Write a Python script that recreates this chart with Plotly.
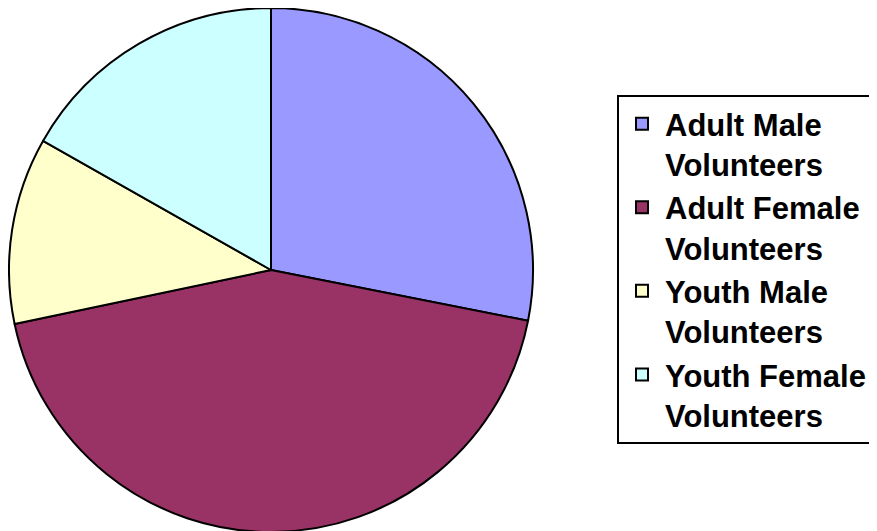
import plotly.graph_objects as go

categories = ["Adult Male<br>Volunteers", "Adult Female<br>Volunteers",
              "Youth Male<br>Volunteers", "Youth Female<br>Volunteers"]
values = [28.1, 43.6, 11.5, 16.8]
colors = ["#9999FF", "#993366", "#FFFFCC", "#CCFFFF"]

W, H = 877, 531
OFF = 8  # page body margin offset

fig = go.Figure(go.Pie(
    labels=categories,
    values=values,
    sort=False,
    direction="clockwise",
    rotation=0,
    textinfo="none",
    hoverinfo="label+percent",
    marker=dict(colors=colors, line=dict(color="black", width=2)),
    domain=dict(x=[(9 - OFF) / W, (533 - OFF) / W], y=[(H - 524) / H, 1.0]),
))

fig.update_layout(
    width=W, height=H,
    margin=dict(l=0, r=0, t=0, b=0, autoexpand=False),
    paper_bgcolor="white",
    plot_bgcolor="white",
    font=dict(family="Liberation Sans, Arial, sans-serif", color="black"),
    legend=dict(
        x=(617 - OFF) / W, xanchor="left",
        y=(H - (95 - OFF)) / H, yanchor="top",
        bordercolor="black", borderwidth=2,
        bgcolor="white",
        font=dict(size=31, family="Liberation Sans, Arial, sans-serif", color="black", weight="bold"),
        valign="top",
        itemwidth=36,
        entrywidth=280,
    ),
)

fig.write_html("out.html")
